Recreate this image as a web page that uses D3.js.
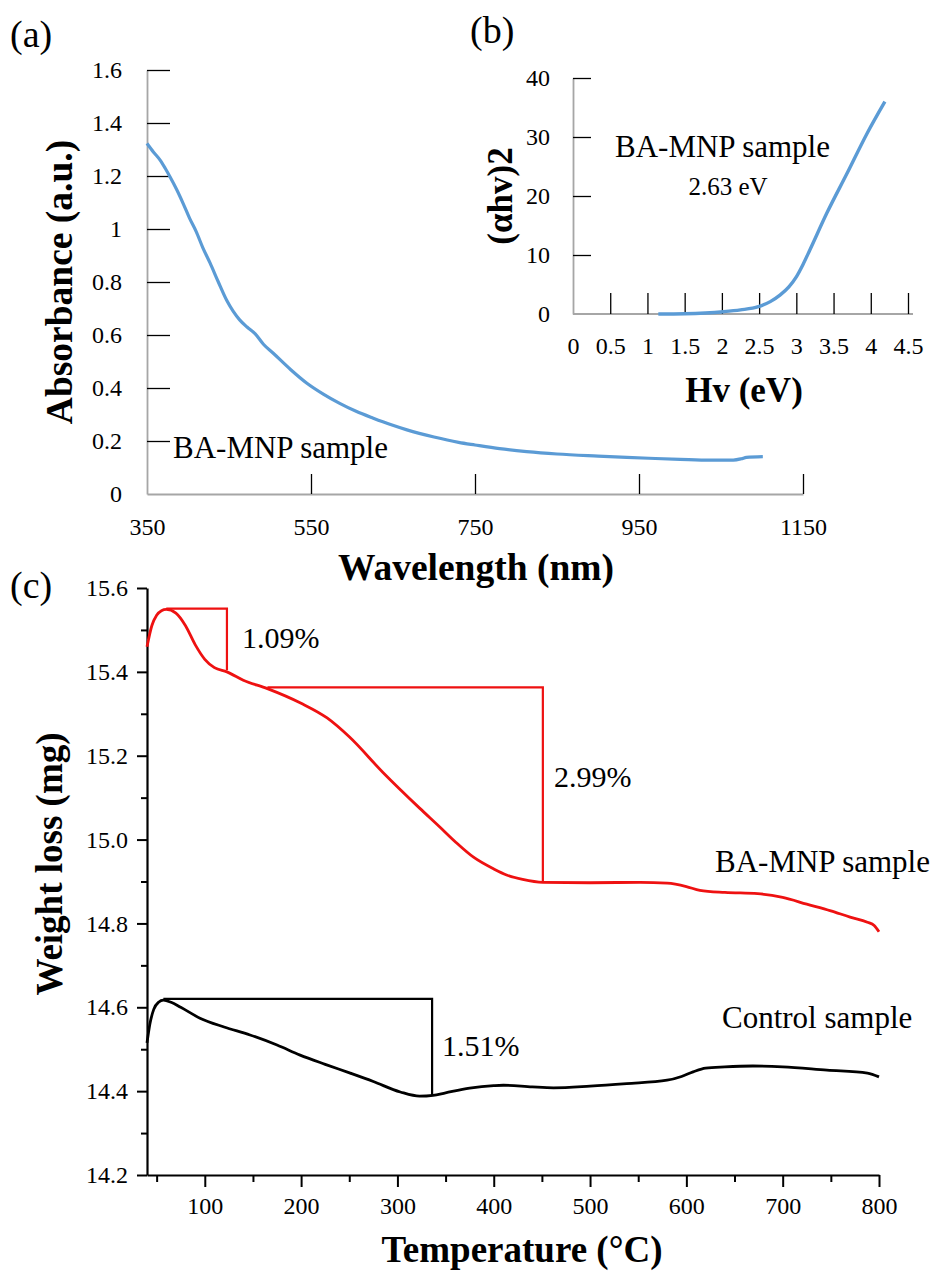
<!DOCTYPE html>
<html>
<head>
<meta charset="utf-8">
<script src="https://cdn.jsdelivr.net/npm/d3@7"></script>
<style>
  html, body { margin: 0; padding: 0; background: #fff; }
  svg { display: block; }
</style>
</head>
<body>
<script>
// ---------------- DATA ----------------
// Panel (a): UV-Vis absorbance
const absWavelength = [350, 358, 366, 372, 378, 386, 394, 402, 410, 418, 427, 437, 447, 455, 463, 472, 482, 492, 504, 525, 545, 565, 585, 605, 626, 647, 667, 700, 730, 750, 780, 813, 850, 900, 935, 970, 1000, 1037, 1065, 1075, 1081, 1101];
const absValues     = [1.323, 1.29, 1.26, 1.23, 1.197, 1.15, 1.097, 1.04, 0.99, 0.93, 0.871, 0.80, 0.732, 0.69, 0.657, 0.63, 0.604, 0.565, 0.531, 0.47, 0.418, 0.377, 0.342, 0.312, 0.286, 0.262, 0.242, 0.215, 0.195, 0.185, 0.171, 0.16, 0.151, 0.143, 0.138, 0.134, 0.131, 0.128, 0.128, 0.133, 0.138, 0.141];
const absXTicks = [350, 550, 750, 950, 1150];
const absYTicks = [0, 0.2, 0.4, 0.6, 0.8, 1, 1.2, 1.4, 1.6];
const absYLabels = ["0", "0.2", "0.4", "0.6", "0.8", "1", "1.2", "1.4", "1.6"];

// Panel (b): Tauc plot
const taucEnergy = [1.146, 1.5, 2.02, 2.25, 2.49, 2.65, 2.78, 2.9, 3.0, 3.09, 3.18, 3.41, 3.68, 3.95, 4.19];
const taucValues = [0.0, 0.05, 0.39, 0.7, 1.24, 2.1, 3.2, 4.6, 6.3, 8.4, 10.8, 17.1, 23.8, 30.6, 36.0];
const taucXTicks = [0, 0.5, 1, 1.5, 2, 2.5, 3, 3.5, 4, 4.5];
const taucXLabels = ["0", "0.5", "1", "1.5", "2", "2.5", "3", "3.5", "4", "4.5"];
const taucYTicks = [0, 10, 20, 30, 40];

// Panel (c): TGA
const tgaTempBA = [40, 45, 50, 55, 60, 70, 80, 90, 100, 110, 123, 140, 165, 200, 227, 250, 285, 323, 344, 360, 379, 400, 414, 430, 451, 500, 552, 580, 600, 614, 640, 674, 700, 725, 750, 770, 788, 795, 800];
const tgaWeightBA = [15.46, 15.51, 15.535, 15.546, 15.549, 15.54, 15.51, 15.465, 15.43, 15.41, 15.40, 15.38, 15.36, 15.325, 15.29, 15.245, 15.16, 15.075, 15.03, 14.995, 14.958, 14.93, 14.915, 14.905, 14.898, 14.897, 14.898, 14.896, 14.888, 14.879, 14.874, 14.871, 14.862, 14.846, 14.83, 14.815, 14.803, 14.795, 14.78];
const tgaTempCtrl = [40, 43, 47, 52, 57, 65, 75, 95, 120, 147, 175, 199, 225, 251, 275, 303, 323, 337, 350, 375, 400, 410, 440, 462, 500, 538, 580, 595, 607, 620, 640, 669, 700, 746, 788, 800];
const tgaWeightCtrl = [14.515, 14.56, 14.595, 14.612, 14.617, 14.612, 14.6, 14.574, 14.553, 14.534, 14.51, 14.486, 14.464, 14.443, 14.423, 14.398, 14.388, 14.39, 14.396, 14.407, 14.413, 14.414, 14.41, 14.408, 14.412, 14.418, 14.426, 14.435, 14.446, 14.455, 14.458, 14.46, 14.458, 14.45, 14.443, 14.434];
const tgaXTicks = [100, 200, 300, 400, 500, 600, 700, 800];
const tgaXMinor = [50, 150, 250, 350, 450, 550, 650, 750];
const tgaYTicks = [14.2, 14.4, 14.6, 14.8, 15.0, 15.2, 15.4, 15.6];
const tgaYMinor = [14.3, 14.5, 14.7, 14.9, 15.1, 15.3, 15.5];
// step annotations (temperature, weight)
const baStep1 = [[60, 15.551], [123, 15.551], [123, 15.404]];
const baStep2 = [[165, 15.363], [451, 15.363], [451, 14.898]];
const ctrlStep = [[57, 14.62], [336, 14.62], [336, 14.391]];

// ---------------- FONT ----------------
const FONT = '"Liberation Serif", "Tinos", "Times New Roman", Times, serif';

// ---------------- DRAW ----------------
const W = 938, H = 1273;
const svg = d3.select("body").append("svg").attr("width", W).attr("height", H)
  .style("font-family", FONT);
svg.append("rect").attr("width", W).attr("height", H).attr("fill", "#fff");

const blue = "#5B9BD5", red = "#EE1111", grey = "#A6A6A6";

function txt(x, y, size, s, opts = {}) {
  const t = svg.append("text").attr("x", x).attr("y", y).attr("font-size", size)
    .style("font-family", FONT).attr("fill", "#000").text(s);
  if (opts.anchor) t.attr("text-anchor", opts.anchor);
  if (opts.bold) t.attr("font-weight", "bold");
  if (opts.rotate) t.attr("x", null).attr("y", null).attr("transform", `translate(${x},${y}) rotate(-90)`);
  return t;
}
function styleTicks(g, size) {
  g.attr("font-family", null);
  g.selectAll(".tick text").attr("font-size", size).style("font-family", FONT).attr("fill", "#000");
}

// ===== Panel (a) =====
const xA = d3.scaleLinear().domain([350, 1150]).range([147, 803]);
const yA = d3.scaleLinear().domain([0, 1.6]).range([494, 70]);

const gAx = svg.append("g").attr("transform", "translate(0,494)")
  .call(d3.axisBottom(xA).tickValues(absXTicks).tickSize(-20).tickSizeOuter(0).tickPadding(24).tickFormat(d3.format("d")));
gAx.select(".domain").attr("stroke", grey).attr("stroke-width", 1.8);
gAx.selectAll(".tick line").attr("stroke", "#000").attr("stroke-width", 1.3)
  .filter(d => d === 350).remove();
styleTicks(gAx, 24);

const gAy = svg.append("g").attr("transform", "translate(147,0)")
  .call(d3.axisLeft(yA).tickValues(absYTicks).tickSize(-23).tickSizeOuter(0).tickPadding(25)
    .tickFormat((d, i) => absYLabels[i]));
gAy.select(".domain").attr("stroke", grey).attr("stroke-width", 1.8);
gAy.selectAll(".tick line").attr("stroke", "#000").attr("stroke-width", 1.3)
  .filter(d => d === 0).remove();
styleTicks(gAy, 24);

const absData = absWavelength.map((x, i) => [x, absValues[i]]);
svg.append("path").datum(absData)
  .attr("fill", "none").attr("stroke", blue).attr("stroke-width", 3.2)
  .attr("d", d3.line().x(d => xA(d[0])).y(d => yA(d[1])).curve(d3.curveMonotoneX));

txt(173, 458, 31, "BA-MNP sample");
txt(10, 47, 38, "(a)");
txt(72, 282, 37.5, "Absorbance (a.u.)", { anchor: "middle", bold: true, rotate: true });
txt(476, 580, 37.5, "Wavelength (nm)", { anchor: "middle", bold: true });

// ===== Panel (b) =====
const xB = d3.scaleLinear().domain([0, 4.5]).range([573, 908]);
const yB = d3.scaleLinear().domain([0, 40]).range([314, 78]);

svg.append("line").attr("x1", 573).attr("x2", 913).attr("y1", 314).attr("y2", 314)
  .attr("stroke", grey).attr("stroke-width", 1.8);
const gBx = svg.append("g").attr("transform", "translate(0,314)")
  .call(d3.axisBottom(xB).tickValues(taucXTicks).tickSize(-21).tickSizeOuter(0).tickPadding(23)
    .tickFormat((d, i) => taucXLabels[i]));
gBx.select(".domain").remove();
gBx.selectAll(".tick line").attr("stroke", "#000").attr("stroke-width", 1.3)
  .filter(d => d === 0).remove();
styleTicks(gBx, 24);

const gBy = svg.append("g").attr("transform", "translate(573,0)")
  .call(d3.axisLeft(yB).tickValues(taucYTicks).tickSize(-18).tickSizeOuter(0).tickPadding(23));
gBy.select(".domain").attr("stroke", grey).attr("stroke-width", 1.8);
gBy.selectAll(".tick line").attr("stroke", "#000").attr("stroke-width", 1.3)
  .filter(d => d === 0).remove();
styleTicks(gBy, 24);

const taucData = taucEnergy.map((x, i) => [x, taucValues[i]]);
svg.append("path").datum(taucData)
  .attr("fill", "none").attr("stroke", blue).attr("stroke-width", 3.4)
  .attr("d", d3.line().x(d => xB(d[0])).y(d => yB(d[1])).curve(d3.curveMonotoneX));

txt(615, 157, 31, "BA-MNP sample");
txt(728, 195, 25, "2.63 eV", { anchor: "middle" });
txt(470, 43, 38, "(b)");
txt(512, 196, 35, "(αhv)2", { anchor: "middle", bold: true, rotate: true });
txt(744, 402, 35, "Hv (eV)", { anchor: "middle", bold: true });

// ===== Panel (c) =====
const xC = d3.scaleLinear().domain([40, 800]).range([147, 879]);
const yC = d3.scaleLinear().domain([14.2, 15.6]).range([1175, 588]);

const gCxm = svg.append("g").attr("transform", "translate(0,1175)")
  .call(d3.axisBottom(xC).tickValues(tgaXMinor).tickSize(7).tickSizeOuter(0).tickFormat(""));
gCxm.select(".domain").remove();
gCxm.selectAll(".tick line").attr("stroke", "#000").attr("stroke-width", 2);

const gCym = svg.append("g").attr("transform", "translate(147,0)")
  .call(d3.axisLeft(yC).tickValues(tgaYMinor).tickSize(6).tickSizeOuter(0).tickFormat(""));
gCym.select(".domain").remove();
gCym.selectAll(".tick line").attr("stroke", "#000").attr("stroke-width", 2);

const gCx = svg.append("g").attr("transform", "translate(0,1175)")
  .call(d3.axisBottom(xC).tickValues(tgaXTicks).tickSize(12).tickSizeOuter(0).tickPadding(10).tickFormat(d3.format("d")));
gCx.select(".domain").attr("stroke", "#000").attr("stroke-width", 2.2);
gCx.selectAll(".tick line").attr("stroke", "#000").attr("stroke-width", 2);
styleTicks(gCx, 24);

const gCy = svg.append("g").attr("transform", "translate(147,0)")
  .call(d3.axisLeft(yC).tickValues(tgaYTicks).tickSize(10).tickSizeOuter(0).tickPadding(9).tickFormat(d3.format(".1f")));
gCy.select(".domain").attr("stroke", "#000").attr("stroke-width", 2.2);
gCy.selectAll(".tick line").attr("stroke", "#000").attr("stroke-width", 2);
styleTicks(gCy, 24);

const lineC = d3.line().x(d => xC(d[0])).y(d => yC(d[1])).curve(d3.curveMonotoneX);
const baData = tgaTempBA.map((x, i) => [x, tgaWeightBA[i]]);
const ctrlData = tgaTempCtrl.map((x, i) => [x, tgaWeightCtrl[i]]);

svg.append("path").datum(baData).attr("fill", "none").attr("stroke", red).attr("stroke-width", 2.8).attr("d", lineC);
svg.append("path").datum(ctrlData).attr("fill", "none").attr("stroke", "#000").attr("stroke-width", 2.8).attr("d", lineC);

const stepLine = d3.line().x(d => xC(d[0])).y(d => yC(d[1]));
[baStep1, baStep2].forEach(s => svg.append("path").datum(s).attr("fill", "none")
  .attr("stroke", red).attr("stroke-width", 2.2).attr("d", stepLine));
svg.append("path").datum(ctrlStep).attr("fill", "none")
  .attr("stroke", "#000").attr("stroke-width", 2.2).attr("d", stepLine);

txt(242, 648, 30, "1.09%");
txt(554, 787, 30, "2.99%");
txt(442, 1056, 30, "1.51%");
txt(715, 872, 31, "BA-MNP sample");
txt(722, 1028, 31, "Control sample");
txt(10, 598, 38, "(c)");
txt(62, 864, 37, "Weight loss (mg)", { anchor: "middle", bold: true, rotate: true });
txt(522, 1262, 37, "Temperature (°C)", { anchor: "middle", bold: true });
</script>
</body>
</html>
